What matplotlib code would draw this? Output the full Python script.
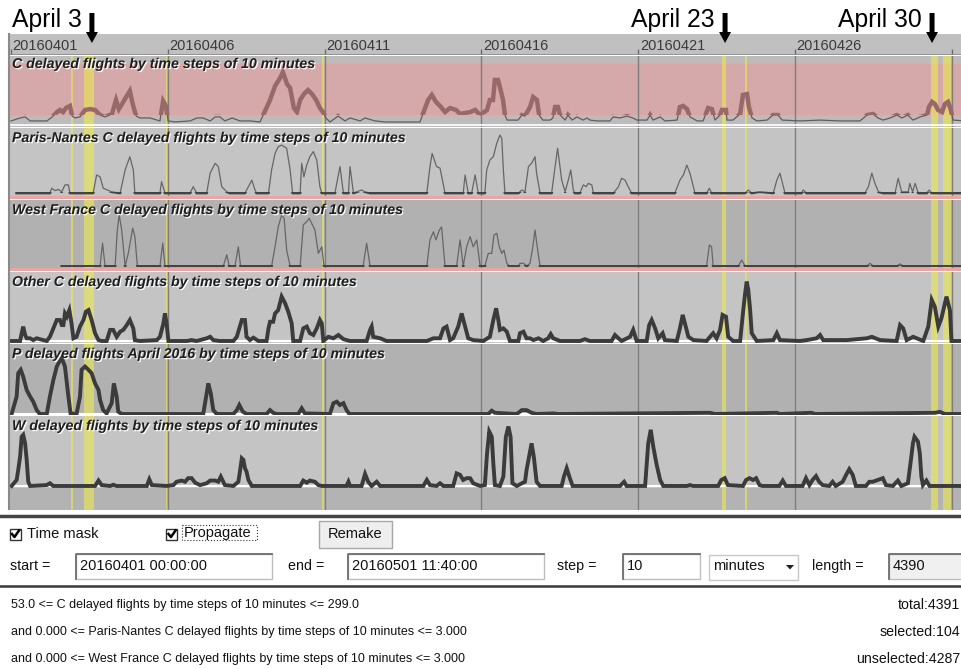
import matplotlib
matplotlib.use('Agg')
import matplotlib.pyplot as plt
import matplotlib.patheffects as pe
from matplotlib.patches import Rectangle, Polygon

plt.rcParams['font.family'] = ['Liberation Sans', 'DejaVu Sans']

W, H = 962, 669
DAY0_PX = 11        # pixel column of 20160401 00:00
PX_PER_DAY = 31.36

# ---- data (x = days since 2016-04-01 00:00, y = delayed flights) ----
tick_days = [0, 5, 10, 15, 20, 25]
tick_labels = ['20160401', '20160406', '20160411', '20160416', '20160421', '20160426']
grid_days = [5, 10, 15, 20, 25, 30]
mask_spans = [(1.92, 1.97), (2.34, 2.66), (4.94, 4.99), (9.93, 9.98),
              (22.68, 22.80), (23.41, 23.46), (29.34, 29.57), (29.73, 29.96)]
marker_days = [2.58, 22.77, 29.37]
marker_labels = ['April 3', 'April 23', 'April 30']
c_range = (53.0, 299.0)

titles = ['C delayed flights by time steps of 10 minutes',
          'Paris-Nantes C delayed flights by time steps of 10 minutes',
          'West France C delayed flights by time steps of 10 minutes',
          'Other C delayed flights by time steps of 10 minutes',
          'P delayed flights April 2016 by time steps of 10 minutes',
          'W delayed flights by time steps of 10 minutes']

c_points = [(0.00,24),(0.29,38),(0.45,43),(0.61,24),(1.15,24),(1.31,43),(1.47,66),(1.56,76),(1.66,66),(1.75,85),
            (1.88,95),(1.95,47),(2.04,38),(2.20,43),(2.36,76),(2.52,80),(2.68,76),(2.84,52),(3.00,43),(3.22,57),
            (3.35,123),(3.44,80),(3.54,104),(3.67,137),(3.79,166),(3.89,99),(3.99,47),(4.11,38),(4.43,38),(4.75,24),
            (4.85,118),(4.94,95),(5.01,24),(5.23,19),(5.71,24),(5.93,38),(6.12,38),(6.35,24),(6.51,43),(6.66,43),
            (6.82,24),(7.05,38),(7.30,24),(7.62,24),(7.94,19),(8.26,123),(8.42,189),(8.58,227),(8.67,255),(8.80,199),
            (8.90,180),(9.02,85),(9.12,66),(9.22,123),(9.34,151),(9.47,170),(9.60,151),(9.73,123),(9.85,85),(9.95,66),
            (10.04,38),(10.17,19),(10.43,47),(10.65,24),(10.81,38),(11.13,24),(11.29,38),(11.61,24),(11.93,19),(13.04,19),
            (13.30,123),(13.42,147),(13.55,114),(13.68,95),(13.84,66),(14.00,85),(14.19,76),(14.32,57),(14.64,66),(14.80,76),
            (14.96,52),(15.18,76),(15.27,123),(15.37,123),(15.43,218),(15.53,218),(15.59,184),(15.69,123),(15.75,52),(15.82,28),
            (16.17,28),(16.29,52),(16.39,47),(16.55,90),(16.65,137),(16.77,123),(16.84,52),(16.96,28),(17.19,28),(17.28,38),
            (17.35,90),(17.44,90),(17.51,52),(17.67,28),(17.76,52),(17.89,28),(18.05,43),(18.24,28),(18.37,38),(18.46,28),
            (18.69,24),(19.10,24),(19.20,43),(19.42,38),(19.64,47),(19.83,38),(19.96,28),(20.28,28),(20.38,52),(20.47,28),
            (20.70,43),(20.85,24),(21.24,28),(21.33,90),(21.43,95),(21.56,80),(21.65,43),(21.88,24),(22.07,24),(22.23,85),
            (22.35,80),(22.45,28),(22.61,52),(22.67,76),(22.80,76),(22.83,28),(23.02,28),(23.25,57),(23.34,147),(23.47,151),
            (23.53,90),(23.63,38),(23.79,24),(24.11,28),(24.30,52),(24.46,52),(24.59,28),(25.16,24),(25.80,28),(26.43,24),
            (27.07,24),(27.30,52),(27.49,57),(27.65,38),(27.81,28),(28.03,38),(28.25,52),(28.41,38),(28.60,52),(28.76,28),
            (28.99,43),(29.21,52),(29.27,90),(29.37,114),(29.46,104),(29.56,76),(29.69,66),(29.78,104),(29.88,114),(29.97,76),
            (30.04,28),(30.45,24)]

pn_points = [(0.18,0),(1.24,0),(1.30,1.6),(1.40,0.8),(1.51,1.2),(1.62,0.4),(1.72,2.7),(1.83,2.7),(1.88,0),(2.62,0),
             (2.73,6),(2.84,5.4),(2.94,1.6),(3.21,0.4),(3.48,0),(3.64,7.7),(3.79,12.1),(3.90,7.7),(3.95,0),(4.75,0),
             (4.80,3.8),(4.91,0),(5.71,0),(5.81,2.1),(5.92,0),(6.24,0),(6.35,6.6),(6.51,9.9),(6.61,8.8),(6.72,2.1),
             (6.88,0.4),(6.98,0),(7.46,0),(7.57,2.1),(7.68,4.3),(7.78,1),(7.83,0),(8.21,0),(8.31,7.7),(8.42,13.2),
             (8.52,15.4),(8.63,16),(8.79,14.9),(8.90,7.7),(8.98,0),(9.22,0),(9.27,9.9),(9.34,5.4),(9.43,9.3),(9.53,12.1),
             (9.64,13.8),(9.75,11),(9.85,2.1),(9.91,0),(10.33,0),(10.49,8.8),(10.60,0),(10.76,0),(10.81,8.8),(10.92,0),
             (11.18,1),(11.29,0.4),(11.45,0),(13.26,0),(13.36,8.8),(13.43,13.2),(13.57,8.8),(13.68,8.3),(13.84,0),(14.42,0),
             (14.48,6),(14.58,0),(14.69,0),(14.80,6),(14.90,0),(15.11,0),(15.17,7.7),(15.27,11),(15.38,12.1),(15.49,16.6),
             (15.59,19.3),(15.65,18.2),(15.70,7.7),(15.75,0),(16.18,0),(16.29,1),(16.39,0.4),(16.50,8.8),(16.60,9.9),(16.71,12.1),
             (16.76,6.6),(16.87,0),(17.24,0),(17.35,8.8),(17.43,14.9),(17.56,4.3),(17.67,0.4),(17.77,4.3),(17.85,7.7),(17.93,1),
             (17.98,0),(18.14,0),(18.25,2.7),(18.34,2.1),(18.41,3.2),(18.52,2.7),(18.57,0),(19.21,0),(19.37,2.1),(19.47,4.9),
             (19.58,4.3),(19.68,2.1),(19.79,0),(21.17,0),(21.33,4.3),(21.44,6),(21.55,9.3),(21.65,6.6),(21.81,0),(22.18,0),
             (22.27,1.6),(22.34,0),(23.41,0),(23.51,1),(23.62,0),(23.83,0.4),(23.94,0.4),(24.31,0),(24.42,4.3),(24.52,6.6),
             (24.63,2.1),(24.68,0),(25.21,0),(25.26,1),(25.37,0),(27.23,0),(27.34,2.1),(27.45,6.6),(27.55,3.2),(27.66,0.4),
             (27.82,0),(28.19,0),(28.29,4.9),(28.40,0.4),(28.61,0.4),(28.66,3.2),(28.75,0.4),(28.83,3.2),(28.93,0),(29.20,0),
             (29.28,1),(29.36,0),(30.45,0)]

wf_points = [(1.62,0),(2.84,0),(2.92,7.6),(3.00,0),(3.32,0),(3.39,12),(3.45,17),(3.53,12),(3.64,0),(3.74,4.2),
             (3.88,12.6),(3.95,9.8),(4.03,0),(4.75,0),(4.84,7.6),(4.91,0),(6.77,0),(6.88,3.7),(6.96,0),(7.14,0),
             (7.25,6.4),(7.32,0),(8.31,0),(8.42,6.4),(8.52,13),(8.63,17),(8.71,15.9),(8.79,5.3),(8.90,0),(9.22,0),
             (9.32,13.7),(9.43,14.8),(9.51,15.9),(9.59,14.2),(9.69,12),(9.80,4.2),(9.91,6.4),(9.98,0),(11.23,0),(11.34,7.6),
             (11.45,0),(13.26,0),(13.36,8.7),(13.47,11.4),(13.55,8.7),(13.66,12),(13.73,13),(13.84,0),(14.21,0),(14.32,8.7),
             (14.42,0),(14.53,6.4),(14.64,9.8),(14.74,6.4),(14.85,8.7),(14.96,0),(15.11,0),(15.22,4.2),(15.33,4.2),(15.40,10.3),
             (15.49,10.9),(15.57,6.4),(15.65,4.2),(15.72,5.3),(15.81,0.9),(15.89,0),(16.18,0),(16.23,0.9),(16.34,0.9),(16.44,0),
             (16.55,0.9),(16.64,6.4),(16.71,12),(16.78,6.4),(16.87,0),(22.18,0),(22.27,7),(22.34,6.4),(22.39,0),(23.19,0),
             (23.30,2),(23.41,0),(27.29,0),(27.39,0.9),(27.50,0),(28.24,0),(28.35,0.7),(28.45,0),(30.45,0)]

oc_points = [(0.02,0),(0.29,0),(0.34,2.6),(0.39,4.8),(0.45,2),(0.50,0.9),(0.61,0.9),(0.71,0.3),(0.82,0.9),(0.92,0.6),
             (1.14,0),(1.24,1.4),(1.35,4.2),(1.46,7),(1.56,7),(1.62,5.3),(1.67,5.3),(1.72,9.2),(1.78,8.1),(1.86,10.3),
             (1.93,5.9),(1.99,0.9),(2.09,1.4),(2.20,4.8),(2.31,7),(2.39,9.8),(2.47,10.3),(2.57,7),(2.68,2.6),(2.79,0.3),
             (2.89,0),(3.05,0),(3.16,3.7),(3.26,3.7),(3.37,1.4),(3.48,3.1),(3.58,3.7),(3.69,5.3),(3.79,7),(3.90,4.2),
             (3.95,0.3),(4.11,0),(4.65,0.3),(4.75,1.4),(4.86,5.9),(4.91,9.2),(4.96,5.9),(5.02,0),(5.60,0),(5.76,0.3),
             (5.92,0),(6.24,0.9),(6.35,1.4),(6.45,0.3),(6.66,0),(7.09,0),(7.20,1.4),(7.36,7),(7.46,7),(7.51,1.4),
             (7.62,0.3),(7.73,1.1),(7.89,0),(8.15,0),(8.21,4.2),(8.26,6.4),(8.36,6.4),(8.42,9.2),(8.52,10.3),(8.63,14.8),
             (8.74,12.6),(8.84,9.8),(8.95,5.9),(9.00,0),(9.22,0),(9.32,4.2),(9.43,4.8),(9.53,2.6),(9.64,2),(9.75,4.2),
             (9.85,7),(9.91,5.9),(9.96,0),(10.12,1.4),(10.28,0.9),(10.44,2),(10.60,0.6),(10.81,0),(11.34,0),(11.45,3.7),
             (11.50,4.8),(11.55,1.4),(11.77,0.9),(11.98,0),(13.26,0),(13.47,0.9),(13.68,0.9),(13.79,4.2),(13.89,4.8),(14.00,0.3),
             (14.10,0.9),(14.26,4.8),(14.37,9.2),(14.48,4.8),(14.58,0.9),(14.74,0.3),(15.06,0),(15.27,1.4),(15.38,7),(15.47,10.9),
             (15.54,7),(15.59,3.7),(15.70,4.2),(15.81,3.1),(15.91,0),(16.18,0),(16.23,2.6),(16.34,3.1),(16.44,0.9),(16.55,0.9),
             (16.66,0.3),(16.82,0.9),(16.97,0),(17.13,0.9),(17.21,2.3),(17.29,0.9),(17.51,0),(18.14,0),(18.30,0.6),(18.46,0),
             (19.15,0),(19.26,2),(19.37,0.9),(19.47,0),(19.74,1.4),(19.84,3.7),(19.95,0),(20.27,0),(20.35,5.3),(20.43,7),
             (20.54,4.2),(20.64,0.9),(20.78,2.6),(20.85,0.3),(21.23,0),(21.33,4.2),(21.42,8.7),(21.49,5.9),(21.60,1.4),(21.76,0.3),
             (22.18,0),(22.29,1.4),(22.39,2.6),(22.50,0.9),(22.61,3.7),(22.69,8.7),(22.80,8.1),(22.87,1.4),(23.03,0),(23.25,0),
             (23.35,10.3),(23.41,15.9),(23.46,19.8),(23.51,17),(23.57,10.3),(23.62,2.6),(23.78,0),(24.31,0.3),(24.42,2.6),(24.52,0.3),
             (25.16,0),(25.37,0.3),(25.69,0.9),(25.80,2),(25.90,0.3),(26.22,0.3),(26.65,0.3),(27.29,0.9),(27.45,1.4),(27.71,0.3),
             (28.24,0),(28.35,5.3),(28.45,4.2),(28.56,0.3),(28.77,1.4),(28.88,0.9),(29.09,0),(29.25,4.8),(29.36,13.7),(29.46,11.4),
             (29.57,4.8),(29.67,7.6),(29.78,12.6),(29.83,14.8),(29.94,10.3),(29.99,0),(30.45,0)]

p_points = [(0.02,0),(0.18,5.8),(0.23,13.6),(0.31,14.7),(0.39,12.4),(0.50,8),(0.61,5.8),(0.71,4.1),(0.82,1.3),(0.92,0),
            (1.14,0),(1.24,5.8),(1.35,11.3),(1.46,15.8),(1.54,17.4),(1.62,18.6),(1.72,15.8),(1.83,5.8),(1.90,0.2),(2.09,0),
            (2.20,5.8),(2.25,14.7),(2.36,15.8),(2.47,14.7),(2.57,13.6),(2.68,10.2),(2.79,8),(2.84,4.7),(2.94,1.3),(3.05,0.2),
            (3.21,3.6),(3.28,10.2),(3.37,5.8),(3.42,0.8),(3.53,0),(6.13,0),(6.24,6.9),(6.29,10.2),(6.37,6.9),(6.45,1.3),
            (6.56,0),(7.09,0),(7.20,1.3),(7.28,3),(7.39,0.8),(7.51,0),(8.15,0),(8.26,1.3),(8.36,0.4),(8.47,0),
            (9.16,0),(9.27,1.9),(9.37,0.2),(10.17,0),(10.28,3.6),(10.39,4.1),(10.49,3),(10.60,3.6),(10.70,1.3),(10.79,0),
            (15.22,0),(15.33,1.1),(15.43,0.4),(16.13,0),(16.29,1.3),(16.44,1.3),(16.60,0.4),(16.76,0),(17.29,0.2),(17.44,0),
            (22.29,0.4),(22.45,0),(24.42,0.4),(24.52,0),(25.53,0.4),(25.64,0),(29.46,0.4),(29.62,0.7),(29.78,0),(30.45,0)]

w_points = [(0.02,0),(0.18,2),(0.23,5.3),(0.29,9.8),(0.34,16.4),(0.39,17),(0.45,14.2),(0.50,8.7),(0.55,1.4),(0.61,0),
            (1.14,0.3),(1.24,0.9),(1.35,0),(2.68,0),(2.79,1.8),(2.89,0.3),(3.16,0),(3.26,0.4),(3.37,0),(4.33,0),
            (4.41,2.2),(4.49,0.3),(4.96,0),(5.18,0.3),(5.28,1.4),(5.44,1.8),(5.55,1.4),(5.65,2.6),(5.76,2.6),(5.87,1.1),
            (6.03,0.3),(6.24,0.9),(6.35,1.8),(6.51,1.8),(6.61,1.4),(6.69,3.1),(6.77,1.4),(6.82,0.3),(7.09,0),(7.25,1.4),
            (7.30,4.8),(7.36,9.2),(7.41,8.7),(7.46,5.9),(7.51,4.8),(7.57,2),(7.68,0),(9.22,0),(9.32,1.8),(9.43,1.1),
            (9.53,1.8),(9.69,1.4),(9.80,0.3),(9.91,0),(10.70,0),(10.76,1.4),(10.81,0),(11.18,0),(11.29,4),(11.39,1.4),
            (11.50,0),(11.66,1.4),(11.77,0),(13.15,0),(13.26,2),(13.36,0.3),(13.57,0),(13.68,0.9),(13.79,0),(14.10,0),
            (14.21,4.2),(14.32,3.7),(14.42,2),(14.53,2.6),(14.64,2.6),(14.74,0.9),(14.96,0),(15.11,0.3),(15.18,10.9),(15.25,18.1),
            (15.33,16.4),(15.38,7.6),(15.43,0.3),(15.59,0),(15.70,3.1),(15.78,16.4),(15.86,19.8),(15.93,16.4),(15.99,0.9),(16.13,0),
            (16.29,0.9),(16.39,1.4),(16.44,5.3),(16.52,9.8),(16.60,14.2),(16.67,9.8),(16.76,1.4),(16.87,0),(17.56,0),(17.63,3.1),
            (17.72,5.9),(17.82,2.6),(17.91,0),(19.42,0),(19.55,1.4),(19.63,0),(20.22,0),(20.32,14.2),(20.40,18.7),(20.48,13.1),
            (20.59,7),(20.70,2),(20.80,0),(21.55,0),(21.65,0.3),(21.76,0),(22.55,0),(22.65,2),(22.76,2.6),(22.86,0.3),
            (23.34,0),(23.44,2),(23.55,2.6),(23.66,2),(23.76,2.6),(23.87,0.3),(23.97,0),(24.50,0),(24.61,1.8),(24.71,0),
            (25.24,0),(25.35,2.6),(25.46,0.3),(25.56,2),(25.67,3.3),(25.77,1.4),(25.88,0.3),(26.09,0),(26.20,1.4),(26.30,0),
            (26.52,1.4),(26.63,3.7),(26.73,5.6),(26.84,3.7),(26.94,0),(27.26,0),(27.37,1.4),(27.48,1.4),(27.64,2),(27.80,2.6),
            (27.90,0.3),(28.12,0),(28.28,1.8),(28.39,0),(28.60,0.9),(28.71,9.8),(28.76,14.2),(28.81,16.4),(28.92,14.8),(28.98,10.9),
            (29.03,3.1),(29.08,0.3),(29.19,1.8),(29.29,0),(30.45,0)]

LIGHT = '#c4c4c4'
DARK = '#b1b1b1'

fig = plt.figure(figsize=(W / 100, H / 100), dpi=100)
fig.patch.set_facecolor('white')

def px_axes(x0, y0, x1, y1):
    ax = fig.add_axes([x0 / W, 1 - y1 / H, (x1 - x0) / W, (y1 - y0) / H])
    ax.set_xticks([])
    ax.set_yticks([])
    for s in ax.spines.values():
        s.set_visible(False)
    return ax

XL = ((8 - DAY0_PX) / PX_PER_DAY, (962 - DAY0_PX) / PX_PER_DAY)

# header with the day ticks
hx = px_axes(8, 34, 962, 55)
hx.set_facecolor('#c0c0c0')
hx.set_xlim(XL)
hx.set_ylim(21, 0)
hx.vlines(tick_days + [30], 15, 21, color='#6c6c6c', lw=1)
hx.axhline(20.5, color='#8c8c8c', lw=1.2)
for d, lab in zip(tick_days, tick_labels):
    hx.text(d + 0.05, 16, lab, fontsize=10.5, color='#3a3a3a', va='baseline', ha='left')

def panel(top, bot, ylo, yhi, bg):
    ax = px_axes(8, top, 962, bot)
    ax.set_facecolor(bg)
    ax.set_xlim(XL)
    ax.set_ylim(ylo, yhi)
    for a, b in mask_spans:
        ax.axvspan(a, b, color='#ecea4e', alpha=0.6, lw=0, zorder=1)
    for d in grid_days:
        ax.axvline(d, color='#7e7e7e', lw=1, zorder=1.5)
    return ax

def split(points):
    return [p[0] for p in points], [p[1] for p in points]

# C panel with the selected range band
ax = panel(56, 127, -4.7, 331, '#bcbcbc')
ax.axhspan(c_range[0], c_range[1], color='#d5a9a9', lw=0, zorder=0.5)
for v in c_range:
    ax.axhline(v, color='#f3a3a3', lw=1, zorder=0.6)
ax.axhline(3, color='white', lw=1.2, zorder=2)
cd, cv = split(c_points)
ax.plot(cd, cv, color='#5e5e5e', lw=0.9, zorder=3)
thick, = ax.plot(cd, cv, color='#996868', lw=3.2, zorder=4, solid_joinstyle='miter')
thick.set_clip_path(Rectangle((XL[0], c_range[0]), XL[1] - XL[0], c_range[1] - c_range[0],
                              transform=ax.transData))

# Paris-Nantes / West France (thin curves, 0..3 band as pink baseline)
for top, bot, ylo, yhi, bg, pts, pink in [(128, 199, -2.0, 21.67, LIGHT, pn_points, -1.2),
                                         (200, 271, -1.67, 22.0, DARK, wf_points, -0.85)]:
    ax = panel(top, bot, ylo, yhi, bg)
    ax.axhline(pink, color='#f2a2a2', lw=2, zorder=2)
    d, v = split(pts)
    ax.plot(d, v, color='#666666', lw=0.9, zorder=3)
    base, = ax.plot(d, v, color='#444444', lw=2, zorder=3.5)
    base.set_clip_path(Rectangle((XL[0], -0.5), XL[1] - XL[0], 0.8, transform=ax.transData))

# Other C / P / W (thick curves)
for top, bot, ylo, yhi, bg, pts in [(272, 343, -0.67, 23.0, LIGHT, oc_points),
                                    (344, 415, -0.33, 23.3, DARK, p_points),
                                    (416, 510, -8.0, 23.3, LIGHT, w_points)]:
    ax = panel(top, bot, ylo, yhi, bg)
    if ylo < -1:
        ax.axhspan(ylo, -0.7, color='#b3b3b3', lw=0, zorder=0.5)
    ax.axhline(-0.15, color='white', lw=1.5, zorder=2)
    d, v = split(pts)
    ax.plot(d, v, color='#3b3b3b', lw=2.8, zorder=3, solid_joinstyle='miter')

# overlay in pixel coordinates for texts and controls
ui = fig.add_axes([0, 0, 1, 1])
ui.set_xlim(0, W)
ui.set_ylim(H, 0)
ui.axis('off')
ui.patch.set_alpha(0)

ui.plot([9.5, 9.5], [34, 512], color='#8a8a8a', lw=1.5)
ui.plot([8, W], [511, 511], color='white', lw=2)
ui.plot([0, W], [516, 516], color='#444444', lw=2.5)
ui.plot([0, W], [585.5, 585.5], color='#3a3a3a', lw=1.8)

shadow = [pe.withSimplePatchShadow(offset=(0.9, -0.9), shadow_rgbFace='white', alpha=0.9)]
for t, yb in zip(titles, [68, 142, 214, 286, 358, 430]):
    ui.text(12, yb, t, fontsize=10.2, fontweight='bold', fontstyle='italic', color='#1e1e1e',
            va='baseline', ha='left', path_effects=shadow)

for d, lab in zip(marker_days, marker_labels):
    x = DAY0_PX + d * PX_PER_DAY
    ui.add_patch(Polygon([(x - 2.5, 13), (x + 2.5, 13), (x + 2.5, 32), (x + 6, 32), (x, 43),
                          (x - 6, 32), (x - 2.5, 32)], closed=True, fc='black', ec='none'))
    ui.text(x - 10, 27, lab, fontsize=17.8, ha='right', va='baseline', color='black')

# controls
def checkbox(x, y):
    ui.add_patch(Rectangle((x, y), 11, 11, fc='white', ec='#333333', lw=1))
    ui.plot([x + 2, x + 4.5, x + 9], [y + 5.5, y + 8.5, y + 2], color='black', lw=1.8)

def field(x0, y0, x1, y1, text, fc='white'):
    ui.add_patch(Rectangle((x0, y0), x1 - x0, y1 - y0, fc=fc, ec='#bdbdbd', lw=1))
    ui.plot([x0, x0, x1], [y1, y0, y0], color='#6e6e6e', lw=1.3)
    ui.text(x0 + 4, (y0 + y1) / 2, text, fontsize=10.5, va='center', ha='left', color='#111111')

checkbox(10, 528.5)
ui.text(27.5, 534.5, 'Time mask', fontsize=10.5, va='center', ha='left', color='#111111')
checkbox(166.5, 528.5)
ui.add_patch(Rectangle((182, 524.5), 75, 15, fc='none', ec='#333333', lw=0.8, ls=':'))
ui.text(184, 533.5, 'Propagate', fontsize=10.5, va='center', ha='left', color='#111111')
ui.add_patch(Rectangle((319, 521), 73, 27, fc='#eeeeee', ec='#a8a8a8', lw=1))
ui.text(355.5, 534.5, 'Remake', fontsize=10.5, va='center', ha='center', color='#111111')

row_y = 566
ui.text(10, row_y, 'start =', fontsize=10.3, va='center', ha='left', color='#111111')
field(76, 554, 272, 579, '20160401 00:00:00')
ui.text(288, row_y, 'end =', fontsize=10.3, va='center', ha='left', color='#111111')
field(348, 554, 544, 579, '20160501 11:40:00')
ui.text(557, row_y, 'step =', fontsize=10.3, va='center', ha='left', color='#111111')
field(623, 554, 700, 579, '10')
ui.add_patch(Rectangle((709, 555), 89, 25, fc='white', ec='#c8c8c8', lw=1))
ui.text(713, row_y, 'minutes', fontsize=10.5, va='center', ha='left', color='#111111')
ui.add_patch(Polygon([(786, 565), (794, 565), (790, 569.5)], closed=True, fc='#222222', ec='none'))
ui.text(812, row_y, 'length =', fontsize=10.3, va='center', ha='left', color='#111111')
field(889, 554, 975, 579, '4390', fc='#f0f0f0')

summary_left = ['53.0 <= C delayed flights by time steps of 10 minutes <= 299.0',
                'and 0.000 <= Paris-Nantes C delayed flights by time steps of 10 minutes <= 3.000',
                'and 0.000 <= West France C delayed flights by time steps of 10 minutes <= 3.000']
summary_right = ['total:4391', 'selected:104', 'unselected:4287']
for i, y in enumerate([605, 632, 659]):
    ui.text(11, y, summary_left[i], fontsize=9, va='center', ha='left', color='#111111')
    ui.text(960, y, summary_right[i], fontsize=10.2, va='center', ha='right', color='#111111')

fig.savefig('out.png', dpi=100)
